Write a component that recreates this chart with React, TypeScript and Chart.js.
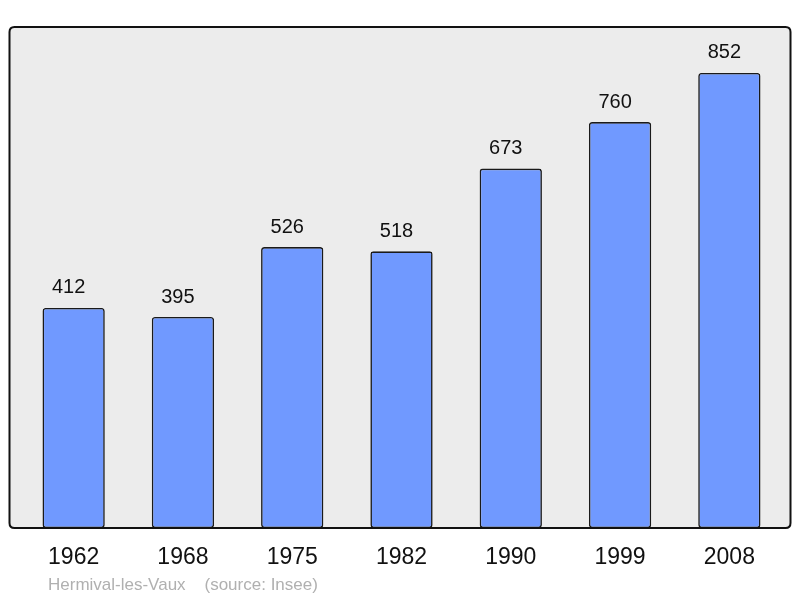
import React, { useEffect, useRef } from "react";
import { Chart, registerables } from "chart.js";

Chart.register(...registerables);

const years = ["1962", "1968", "1975", "1982", "1990", "1999", "2008"];
const population = [412, 395, 526, 518, 673, 760, 852];
const yMax = 938;
const sourceText = "Hermival-les-Vaux    (source: Insee)";

const FONT = "'Liberation Sans', Arial, sans-serif";

function boxPath(ctx: any, x0: number, y0: number, x1: number, y1: number, r: number) {
  ctx.beginPath();
  ctx.moveTo(x0 + r, y0);
  ctx.lineTo(x1 - r, y0);
  ctx.quadraticCurveTo(x1, y0, x1, y0 + r);
  ctx.lineTo(x1, y1 - r);
  ctx.quadraticCurveTo(x1, y1, x1 - r, y1);
  ctx.lineTo(x0 + r, y1);
  ctx.quadraticCurveTo(x0, y1, x0, y1 - r);
  ctx.lineTo(x0, y0 + r);
  ctx.quadraticCurveTo(x0, y0, x0 + r, y0);
  ctx.closePath();
}

const boxPlugin = {
  id: "boxPlugin",
  beforeDraw(chart: any) {
    const { ctx, chartArea } = chart;
    ctx.save();
    boxPath(ctx, 9.5, chartArea.top, 790.5, chartArea.bottom, 5);
    ctx.fillStyle = "#ececec";
    ctx.fill();
    ctx.restore();
  },
  afterDatasetsDraw(chart: any) {
    const { ctx, chartArea } = chart;
    ctx.save();
    boxPath(ctx, 9.5, chartArea.top, 790.5, chartArea.bottom, 5);
    ctx.lineWidth = 2;
    ctx.strokeStyle = "#111";
    ctx.stroke();

    const meta = chart.getDatasetMeta(0);
    ctx.fillStyle = "#111";
    ctx.font = `20px ${FONT}`;
    ctx.textAlign = "center";
    ctx.textBaseline = "middle";
    meta.data.forEach((bar: any, i: number) => {
      ctx.fillText(String(population[i]), bar.x - 5, bar.y - 20);
    });

    ctx.fillStyle = "#b0b0b0";
    ctx.font = `17px ${FONT}`;
    ctx.textAlign = "left";
    ctx.fillText(sourceText, 48, 585);
    ctx.restore();
  },
};

export default function App() {
  const ref = useRef<HTMLCanvasElement>(null);
  useEffect(() => {
    if (!ref.current) return;
    const chart = new Chart(ref.current, {
      type: "bar",
      data: {
        labels: years,
        datasets: [
          {
            data: population,
            backgroundColor: "#7099ff",
            borderColor: "#1a1a1a",
            borderWidth: 1.6,
            borderSkipped: false,
            borderRadius: 3,
            barPercentage: 0.57,
            categoryPercentage: 1,
          },
        ],
      },
      options: {
        animation: false,
        responsive: false,
        maintainAspectRatio: false,
        layout: { padding: { top: 27, left: 19, right: 16, bottom: 0 } },
        plugins: { legend: { display: false }, tooltip: { enabled: false } },
        scales: {
          x: {
            grid: { display: false, drawTicks: false },
            border: { display: false },
            ticks: { color: "#111", font: { size: 23, family: FONT }, padding: 16 },
            afterFit: (scale: any) => {
              scale.height = 70;
            },
          },
          y: {
            display: false,
            min: 0,
            max: yMax,
          },
        },
      },
      plugins: [boxPlugin],
    });
    return () => chart.destroy();
  }, []);
  return (
    <div style={{ position: "fixed", left: 0, top: 0, width: 800, height: 598, background: "#fff" }}>
      <canvas ref={ref} width={800} height={598} style={{ width: 800, height: 598 }} />
    </div>
  );
}
